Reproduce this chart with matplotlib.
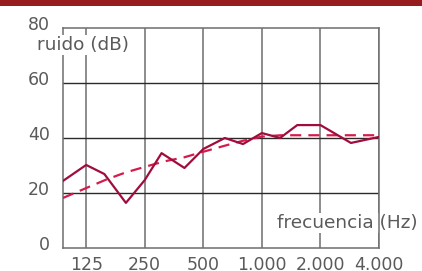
import numpy as np
import matplotlib
matplotlib.use("Agg")
import matplotlib.pyplot as plt
from matplotlib.patches import Rectangle
import matplotlib.transforms as mtransforms

# measured noise curve (frequency in Hz, level in dB)
freq_meas = [95, 125, 155, 200, 250, 305, 400, 500, 645, 800, 1000, 1240, 1520, 2000, 2870, 4000]
level_meas = [24.4, 30.2, 26.9, 16.4, 24.7, 34.5, 29.1, 36.0, 40.0, 37.8, 41.8, 40.0, 44.7, 44.7, 38.2, 40.4]

# reference (dashed) curve
freq_ref = [95, 125, 160, 200, 250, 315, 400, 500, 630, 800, 1000, 1250, 4000]
level_ref = [18.2, 21.8, 25.0, 27.5, 29.5, 31.5, 33.0, 35.0, 37.0, 39.0, 40.5, 41.0, 41.0]

xticks = [125, 250, 500, 1000, 2000, 4000]
xticklabels = ["125", "250", "500", "1.000", "2.000", "4.000"]
yticks = [0, 20, 40, 60, 80]

label_col = "#5a5a5a"
vgrid_col = "#6e6e6e"
hgrid_col = "#2a2a2a"

plt.rcParams['font.family'] = ['DejaVu Sans']

fig = plt.figure(figsize=(4.22, 2.71), dpi=100)
ax = fig.add_axes([63 / 422, 23 / 271, 316 / 422, 220 / 271])

# top red band
fig.patches.append(Rectangle((0, 1 - 6 / 271), 1, 6 / 271, transform=fig.transFigure,
                             facecolor="#961c20", edgecolor="none"))

ax.set_xscale("log", base=2)
ax.set_xlim(95, 4000)
ax.set_ylim(0, 80)

# grid
for f in xticks:
    ax.axvline(f, color=vgrid_col, lw=1.1, zorder=1)
for y in [20, 40, 60]:
    ax.axhline(y, color=hgrid_col, lw=1.0, zorder=1)

ax.plot(freq_ref, level_ref, color="#d41c4c", lw=1.6, dashes=(5, 3.2), zorder=3)
ax.plot(freq_meas, level_meas, color="#a00d3c", lw=1.6, zorder=4)

ax.set_xticks(xticks)
ax.set_xticklabels(xticklabels)
ax.xaxis.set_minor_locator(matplotlib.ticker.NullLocator())
ax.set_yticks(yticks)
ax.tick_params(axis="both", length=0, labelsize=12.5, colors=label_col)
ax.tick_params(axis="x", pad=5.5)
ax.tick_params(axis="y", pad=9.5)
shift = mtransforms.ScaledTranslation(0, 5 / 100, fig.dpi_scale_trans)
for lab in ax.get_yticklabels():
    lab.set_transform(lab.get_transform() + shift)

for s in ax.spines.values():
    s.set_color(vgrid_col)
    s.set_linewidth(1.1)
    s.set_zorder(2.5)

ax.text(-26 / 316, 1 - 17 / 220, "ruido (dB)", transform=ax.transAxes, fontsize=13.3,
        color=label_col, ha="left", va="center", zorder=5, clip_on=False,
        bbox=dict(facecolor="white", edgecolor="none", pad=0.5))
ax.text((277 - 63) / 316, (248 - 223) / 220, "frecuencia (Hz)", transform=ax.transAxes,
        fontsize=13.3, color=label_col, ha="left", va="center", zorder=2.4, clip_on=False,
        bbox=dict(facecolor="white", edgecolor="none", pad=0.5))

fig.savefig("out.png", dpi=100)
